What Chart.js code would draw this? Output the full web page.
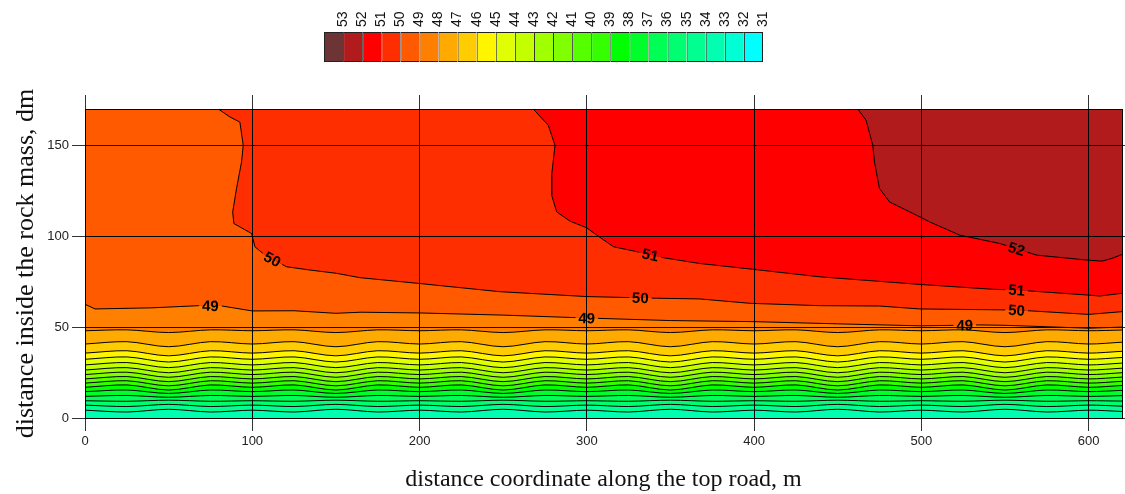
<!DOCTYPE html>
<html>
<head>
<meta charset="utf-8">
<script src="https://cdn.jsdelivr.net/npm/chart.js@4.4.1/dist/chart.umd.min.js"></script>
<style>
  html, body { margin: 0; padding: 0; background: #fff; }
  #wrap { position: relative; width: 1125px; height: 494px; }
  canvas { position: absolute; left: 0; top: 0; display: block; }
</style>
</head>
<body>
<div id="wrap">
  <canvas id="mainChart" width="1125" height="494"></canvas>
  <canvas id="scaleChart" width="1125" height="72"></canvas>
</div>
<script>
// colour scale
const scaleLevels = [53,52,51,50,49,48,47,46,45,44,43,42,41,40,39,38,37,36,35,34,33,32,31];
const scaleColors = ['#6c3434','#b11b1b','#ff0000','#ff2e00','#ff5a00','#ff8000','#ffaa00','#ffcc00','#fff500','#e0ff00','#c4ff00','#a0ff00','#7fff00','#55ff00','#33ff00','#00ff00','#00ff2a','#00ff55','#00ff70','#00ff90','#00ffb0','#00ffd4','#00ffff'];

// upper contours (x in m, y in dm)
const c52x = [462,467,471,472,475,481,499,505,523,547,569,599,608,614,620];
const c52y = [170,163.8,150,140.9,126.3,118.9,110.7,107.9,100.6,96,89.6,86.9,86.3,87.8,90];
const c51x = [268,277,281,279,279,282,290,300,306,316,330,345.6,367.6,397.5,439,499,543,557,598.7,606.7,620];
const c51y = [170,161,150,133.6,122.6,113.4,108.3,104.6,100.6,94.2,91.5,88.2,85,82,77.7,73.5,70.8,70.4,67.7,67.1,68.6];
const c50x = [79.7,86.7,92.6,94.6,93.6,90.6,88.3,89,99.6,101.6,107.6,120.5,134.5,150.4,164.4,200,218,248,300,341.6,367.6,397.5,439,475,499,557,600,620];
const c50y = [170,165.6,162.8,150,140.9,126.3,113.4,107,101.5,94.2,89.6,83.2,81.4,79.6,77.2,74,72.3,69.5,66.8,65.9,65.5,63.1,61.8,61.6,60,59.4,57,58.5];
const c49x = [0,6,40,68,82,100,125,150,165,200,250,300,350,400,450,500,535,550,600,620];
const c49y = [62.6,60,60.6,61.8,61.6,58.9,59,57.6,58.2,57.8,56.6,55,53.6,53,51.8,50.7,51.2,51,49.4,50];

// lower (wavy) contours, sampled every 25 m
const xGrid = [0,25,50,75,100,125,150,175,200,225,250,275,300,325,350,375,400,425,450,475,500,525,550,575,600,620];
const lowLevels = [48,47,46,45,44,43,42,41,40,39,38,37,36,35,34];
const line48 = [48.0,48.5,47.0,48.5,48.0,48.5,47.0,48.5,48.0,48.5,47.0,48.5,48.0,48.5,47.0,48.5,48.0,48.5,47.0,48.5,48.0,48.5,47.0,48.5,48.0,48.4];
const line47 = [40.7,42.0,39.2,42.0,40.7,42.0,39.2,42.0,40.7,42.0,39.2,42.0,40.7,42.0,39.2,42.0,40.7,42.0,39.2,42.0,40.7,42.0,39.2,42.0,40.7,41.7];
const line46 = [35.7,37.0,34.2,37.0,35.7,37.0,34.2,37.0,35.7,37.0,34.2,37.0,35.7,37.0,34.2,37.0,35.7,37.0,34.2,37.0,35.7,37.0,34.2,37.0,35.7,36.7];
const line45 = [32.3,33.6,30.8,33.6,32.3,33.6,30.8,33.6,32.3,33.6,30.8,33.6,32.3,33.6,30.8,33.6,32.3,33.6,30.8,33.6,32.3,33.6,30.8,33.6,32.3,33.3];
const line44 = [29.2,30.5,27.7,30.5,29.2,30.5,27.7,30.5,29.2,30.5,27.7,30.5,29.2,30.5,27.7,30.5,29.2,30.5,27.7,30.5,29.2,30.5,27.7,30.5,29.2,30.2];
const line43 = [26.4,27.7,24.9,27.7,26.4,27.7,24.9,27.7,26.4,27.7,24.9,27.7,26.4,27.7,24.9,27.7,26.4,27.7,24.9,27.7,26.4,27.7,24.9,27.7,26.4,27.4];
const line42 = [23.9,25.2,22.4,25.2,23.9,25.2,22.4,25.2,23.9,25.2,22.4,25.2,23.9,25.2,22.4,25.2,23.9,25.2,22.4,25.2,23.9,25.2,22.4,25.2,23.9,24.9];
const line41 = [21.5,22.8,20.0,22.8,21.5,22.8,20.0,22.8,21.5,22.8,20.0,22.8,21.5,22.8,20.0,22.8,21.5,22.8,20.0,22.8,21.5,22.8,20.0,22.8,21.5,22.5];
const line40 = [19.2,20.5,17.7,20.5,19.2,20.5,17.7,20.5,19.2,20.5,17.7,20.5,19.2,20.5,17.7,20.5,19.2,20.5,17.7,20.5,19.2,20.5,17.7,20.5,19.2,20.2];
const line39 = [16.9,18.2,15.4,18.2,16.9,18.2,15.4,18.2,16.9,18.2,15.4,18.2,16.9,18.2,15.4,18.2,16.9,18.2,15.4,18.2,16.9,18.2,15.4,18.2,16.9,17.9];
const line38 = [14.5,15.4,13.5,15.4,14.5,15.4,13.5,15.4,14.5,15.4,13.5,15.4,14.5,15.4,13.5,15.4,14.5,15.4,13.5,15.4,14.5,15.4,13.5,15.4,14.5,15.2];
const line37 = [11.9,12.4,11.4,12.4,11.9,12.4,11.4,12.4,11.9,12.4,11.4,12.4,11.9,12.4,11.4,12.4,11.9,12.4,11.4,12.4,11.9,12.4,11.4,12.4,11.9,12.3];
const line36 = [9.5,9.2,9.8,9.2,9.5,9.2,9.8,9.2,9.5,9.2,9.8,9.2,9.5,9.2,9.8,9.2,9.5,9.2,9.8,9.2,9.5,9.2,9.8,9.2,9.5,9.3];
const line35 = [7.1,6.3,7.5,6.3,7.1,6.3,7.5,6.3,7.1,6.3,7.5,6.3,7.1,6.3,7.5,6.3,7.1,6.3,7.5,6.3,7.1,6.3,7.5,6.3,7.1,6.5];
const line34 = [4.3,3.3,4.8,3.3,4.3,3.3,4.8,3.3,4.3,3.3,4.8,3.3,4.3,3.3,4.8,3.3,4.3,3.3,4.8,3.3,4.3,3.3,4.8,3.3,4.3,3.6];
const lowLines = [line48,line47,line46,line45,line44,line43,line42,line41,line40,line39,line38,line37,line36,line35,line34];

// contour labels: level and x position along that contour
const labelLevels = [50,49,51,50,49,52,51,50,49];
const labelXs = [112,75,338,332,300,557,557,557,526];

const bandColor = lvl => scaleColors[scaleLevels.indexOf(lvl)];

function contourSet(level, pts, tension) {
  return {
    level: level,
    data: pts,
    borderColor: '#000',
    borderWidth: 1,
    pointRadius: 0,
    fill: 'end',
    backgroundColor: bandColor(level),
    tension: tension
  };
}

const datasets = [];
[[52,c52x,c52y],[51,c51x,c51y],[50,c50x,c50y],[49,c49x,c49y]].forEach(([lvl, xs, ys]) => {
  datasets.push(contourSet(lvl, xs.map((x, i) => ({x: x, y: ys[i]})), 0));
});
lowLevels.forEach((lvl, k) => {
  datasets.push(contourSet(lvl, xGrid.map((x, i) => ({x: x, y: lowLines[k][i]})), 0.3));
});

// paint the band under the lowest contour
const areaBackground = {
  id: 'areaBackground',
  beforeDatasetsDraw(chart) {
    const a = chart.chartArea;
    const ctx = chart.ctx;
    ctx.save();
    ctx.fillStyle = bandColor(lowLevels[lowLevels.length - 1] - 1);
    ctx.fillRect(a.left, a.top, a.right - a.left, a.bottom - a.top);
    ctx.restore();
  }
};

// labels sitting on the contour lines
const contourLabels = {
  id: 'contourLabels',
  afterDatasetsDraw(chart) {
    const ctx = chart.ctx;
    const xs = chart.scales.x;
    ctx.save();
    ctx.font = 'bold 15px "Liberation Sans", Arial, sans-serif';
    ctx.textAlign = 'center';
    ctx.textBaseline = 'middle';
    labelLevels.forEach((lvl, n) => {
      const idx = chart.data.datasets.findIndex(d => d.level === lvl);
      const pts = chart.getDatasetMeta(idx).data;
      const px = xs.getPixelForValue(labelXs[n]);
      for (let i = pts.length - 2; i >= 0; i--) {
        const p = pts[i], q = pts[i + 1];
        if (px >= Math.min(p.x, q.x) && px <= Math.max(p.x, q.x) && q.x !== p.x) {
          const t = (px - p.x) / (q.x - p.x);
          const py = p.y + t * (q.y - p.y);
          const ang = Math.atan2(q.y - p.y, q.x - p.x);
          const text = String(lvl);
          const w = ctx.measureText(text).width + 6;
          ctx.save();
          ctx.translate(px, py);
          ctx.rotate(ang);
          ctx.fillStyle = bandColor(lvl);
          ctx.fillRect(-w / 2, -2, w, 2);
          ctx.fillStyle = bandColor(lvl - 1);
          ctx.fillRect(-w / 2, 0, w, 2);
          ctx.fillStyle = '#000';
          ctx.fillText(text, 0, 1);
          ctx.restore();
          break;
        }
      }
    });
    ctx.restore();
  }
};

const tickFont = {family: '"Liberation Sans", Arial, sans-serif', size: 13};
const scaleFont = {family: '"Liberation Sans", Arial, sans-serif', size: 14};

new Chart(document.getElementById('mainChart'), {
  type: 'line',
  data: {datasets: datasets},
  options: {
    responsive: false,
    animation: false,
    events: [],
    layout: {padding: 0},
    plugins: {legend: {display: false}, tooltip: {enabled: false}},
    scales: {
      x: {
        type: 'linear', position: 'bottom', min: 0, max: 620,
        ticks: {stepSize: 100, includeBounds: false, maxRotation: 0, color: '#222', font: tickFont, padding: 3},
        grid: {color: '#000', lineWidth: 1, tickLength: 13, tickColor: '#333', z: 1},
        border: {color: '#000', width: 1, z: 2},
        title: {display: true, text: 'distance coordinate along the top road, m', color: '#111',
                font: {family: '"Liberation Serif", "Times New Roman", serif', size: 24}, padding: {top: 0, bottom: 0}},
        afterFit: s => { s.height = 76; }
      },
      x2: {
        type: 'linear', position: 'top', min: 0, max: 620,
        ticks: {display: false, stepSize: 100, includeBounds: false},
        grid: {drawOnChartArea: false, tickLength: 14, tickColor: '#333', z: 1},
        border: {color: '#000', width: 1, z: 2},
        afterFit: s => { s.height = 109; }
      },
      y: {
        type: 'linear', position: 'left', min: 0, max: 170,
        ticks: {stepSize: 50, includeBounds: false, color: '#222', font: tickFont, padding: 3},
        grid: {color: '#000', lineWidth: 1, tickLength: 13, tickColor: '#333', z: 1},
        border: {color: '#000', width: 1, z: 2},
        title: {display: true, text: 'distance inside the rock mass, dm', color: '#111',
                font: {family: '"Liberation Serif", "Times New Roman", serif', size: 26}, padding: {top: 11, bottom: 0}},
        afterFit: s => { s.width = 85; }
      },
      y2: {
        type: 'linear', position: 'right', min: 0, max: 170,
        ticks: {display: false, stepSize: 50, includeBounds: false},
        grid: {drawOnChartArea: false, tickLength: 14, tickColor: '#333', z: 1},
        border: {color: '#000', width: 1, z: 2},
        afterFit: s => { s.width = 3; }
      }
    }
  },
  plugins: [areaBackground, contourLabels]
});

// colour scale bar
new Chart(document.getElementById('scaleChart'), {
  type: 'bar',
  data: {
    datasets: [{
      data: scaleLevels.map((l, i) => ({x: i + 0.5, y: 1})),
      backgroundColor: scaleColors,
      borderColor: '#222',
      borderWidth: c => ({top: 1, bottom: 1, left: 1, right: c.dataIndex === scaleLevels.length - 1 ? 1 : 0}),
      borderSkipped: false,
      inflateAmount: 0,
      barPercentage: 1,
      categoryPercentage: 1
    }]
  },
  options: {
    responsive: false,
    animation: false,
    events: [],
    layout: {padding: {left: 324, right: 362, top: 0, bottom: 10}},
    plugins: {legend: {display: false}, tooltip: {enabled: false}},
    scales: {
      x: {
        type: 'linear', position: 'top', min: 0, max: scaleLevels.length, offset: false,
        ticks: {stepSize: 1, autoSkip: false, minRotation: 90, maxRotation: 90, padding: 5, color: '#111', font: scaleFont,
                labelOffset: 16.8,
                callback: v => (v >= 1 && v <= scaleLevels.length) ? String(scaleLevels[v - 1]) : ''},
        grid: {display: false, drawTicks: false, offset: false},
        border: {display: false},
        afterFit: s => { s.height = 32; }
      },
      y: {display: false, min: 0, max: 1}
    }
  }
});
</script>
</body>
</html>
